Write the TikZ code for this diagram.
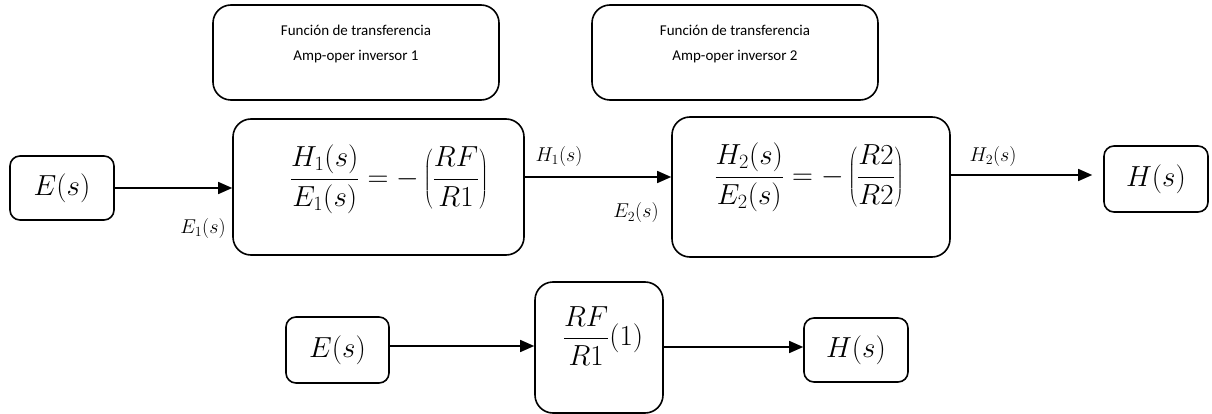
\RequirePackage{fix-cm}
\documentclass[tikz,border=0pt]{standalone}
\usepackage{fontspec}
\newfontfamily\calib{Carlito}
\usetikzlibrary{arrows.meta}
\begin{document}
\begin{tikzpicture}[x=1pt,y=-1pt,
 bx/.style={draw,line width=1.6pt,rounded corners=18pt,inner sep=0pt},
 sbx/.style={draw,line width=1.6pt,rounded corners=10pt,inner sep=0pt},
 big/.style={font=\fontsize{29}{33}\selectfont,inner sep=0pt},
 lbl/.style={font=\fontsize{20}{23}\selectfont,inner sep=0pt},
 ttl/.style={font=\calib\fontsize{15}{25}\selectfont,align=center,inner sep=0pt},
 arr/.style={line width=1.4pt,-{Triangle[length=14pt,width=12pt]}}]
\useasboundingbox (0,0) rectangle (1212,414);
% top title boxes
\node[bx,minimum width=286pt,minimum height=95pt] (t1) at (356,52.5) {};
\node[ttl] (t1txt) at (356,44) {Función de transferencia\\Amp-oper inversor 1};
\node[bx,minimum width=286pt,minimum height=95pt] (t2) at (735,52.5) {};
\node[ttl] (t2txt) at (735,44) {Función de transferencia\\Amp-oper inversor 2};
% main row
\node[sbx,minimum width=104pt,minimum height=64pt] (es) at (62,188) {};
\node[big] (estxt) at (62,188) {$E(s)$};
\node[bx,minimum width=291pt,minimum height=136pt] (b1) at (378.5,187) {};
\node[big] (b1txt) at (389,179) {$\displaystyle\frac{H_1(s)}{E_1(s)}=-\left(\frac{RF}{R1}\right)$};
\node[bx,minimum width=278pt,minimum height=140pt] (b2) at (811,187) {};
\node[big] (b2txt) at (809,177) {$\displaystyle\frac{H_2(s)}{E_2(s)}=-\left(\frac{R2}{R2}\right)$};
\node[sbx,minimum width=104pt,minimum height=66pt] (hs) at (1156,179) {};
\node[big] (hstxt) at (1156,179) {$H(s)$};
\coordinate (a1s) at (es.east |- 0,188);
\coordinate (a1e) at (b1.west |- 0,188);
\coordinate (a2s) at (b1.east |- 0,177);
\coordinate (a2e) at (b2.west |- 0,177);
\coordinate (a3s) at (b2.east |- 0,175);
\coordinate (a3e) at (hs.west |- 0,175);
\draw[arr] (a1s) -- (a1e);
\draw[arr] (a2s) -- (a2e);
\draw[arr,shorten >=11pt] (a3s) -- (a3e);
\node[lbl] (le1) at (203,229) {$E_1(s)$};
\node[lbl] (lh1) at (559,157) {$H_1(s)$};
\node[lbl] (le2) at (636,213) {$E_2(s)$};
\node[lbl] (lh2) at (993,157) {$H_2(s)$};
% bottom row
\node[sbx,minimum width=103pt,minimum height=66pt] (es2) at (337.5,350) {};
\node[big] (es2txt) at (337.5,350) {$E(s)$};
\node[bx,minimum width=128pt,minimum height=131pt] (m) at (599,347.5) {};
\node[big] (mtxt) at (603,336) {$\displaystyle\frac{RF}{R1}(1)$};
\node[sbx,minimum width=104pt,minimum height=64pt] (hs2) at (856,350) {};
\node[big] (hs2txt) at (856,350) {$H(s)$};
\coordinate (b1s) at (es2.east |- 0,346);
\coordinate (b1e) at (m.west |- 0,346);
\coordinate (b2s) at (m.east |- 0,347);
\coordinate (b2e) at (hs2.west |- 0,347);
\draw[arr] (b1s) -- (b1e);
\draw[arr] (b2s) -- (b2e);
\end{tikzpicture}
\end{document}
